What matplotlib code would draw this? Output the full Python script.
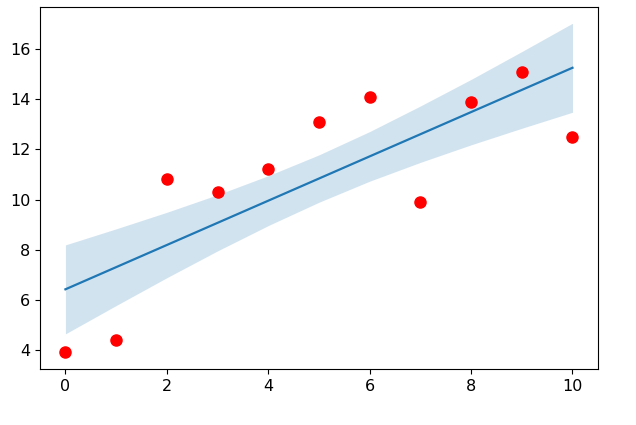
import numpy as np
from matplotlib import pyplot as plt

# Datos
x = np.arange(0, 11)
y = [3.9, 4.4, 10.8, 10.3, 11.2, 13.1, 14.1, 9.9, 13.9, 15.1, 12.5]

# Banda de confianza
banda_inf = [4.64, 5.77, 6.88, 7.95, 8.96, 9.89, 10.73, 11.48, 12.18, 12.84, 13.48]
banda_sup = [8.19, 8.83, 9.49, 10.19, 10.95, 11.78, 12.71, 13.73, 14.79, 15.90, 17.03]

# Ajuste lineal
pendiente, intercepto = np.polyfit(x, y, 1)
ajuste = pendiente * x + intercepto

fig = plt.figure(figsize=(6.36, 4.25), dpi=100)
ax = fig.add_axes([0.063, 0.132, 0.877, 0.852])
ax.fill_between(x, banda_inf, banda_sup, color='tab:blue', alpha=0.2, linewidth=0)
ax.plot(x, ajuste, color='tab:blue', linewidth=1.6)
ax.scatter(x, y, color='red', s=64, zorder=3)
ax.set_xticks([0, 2, 4, 6, 8, 10])
ax.set_yticks([4, 6, 8, 10, 12, 14, 16])
ax.tick_params(labelsize=11.5)
plt.savefig('out.png', dpi=100)
